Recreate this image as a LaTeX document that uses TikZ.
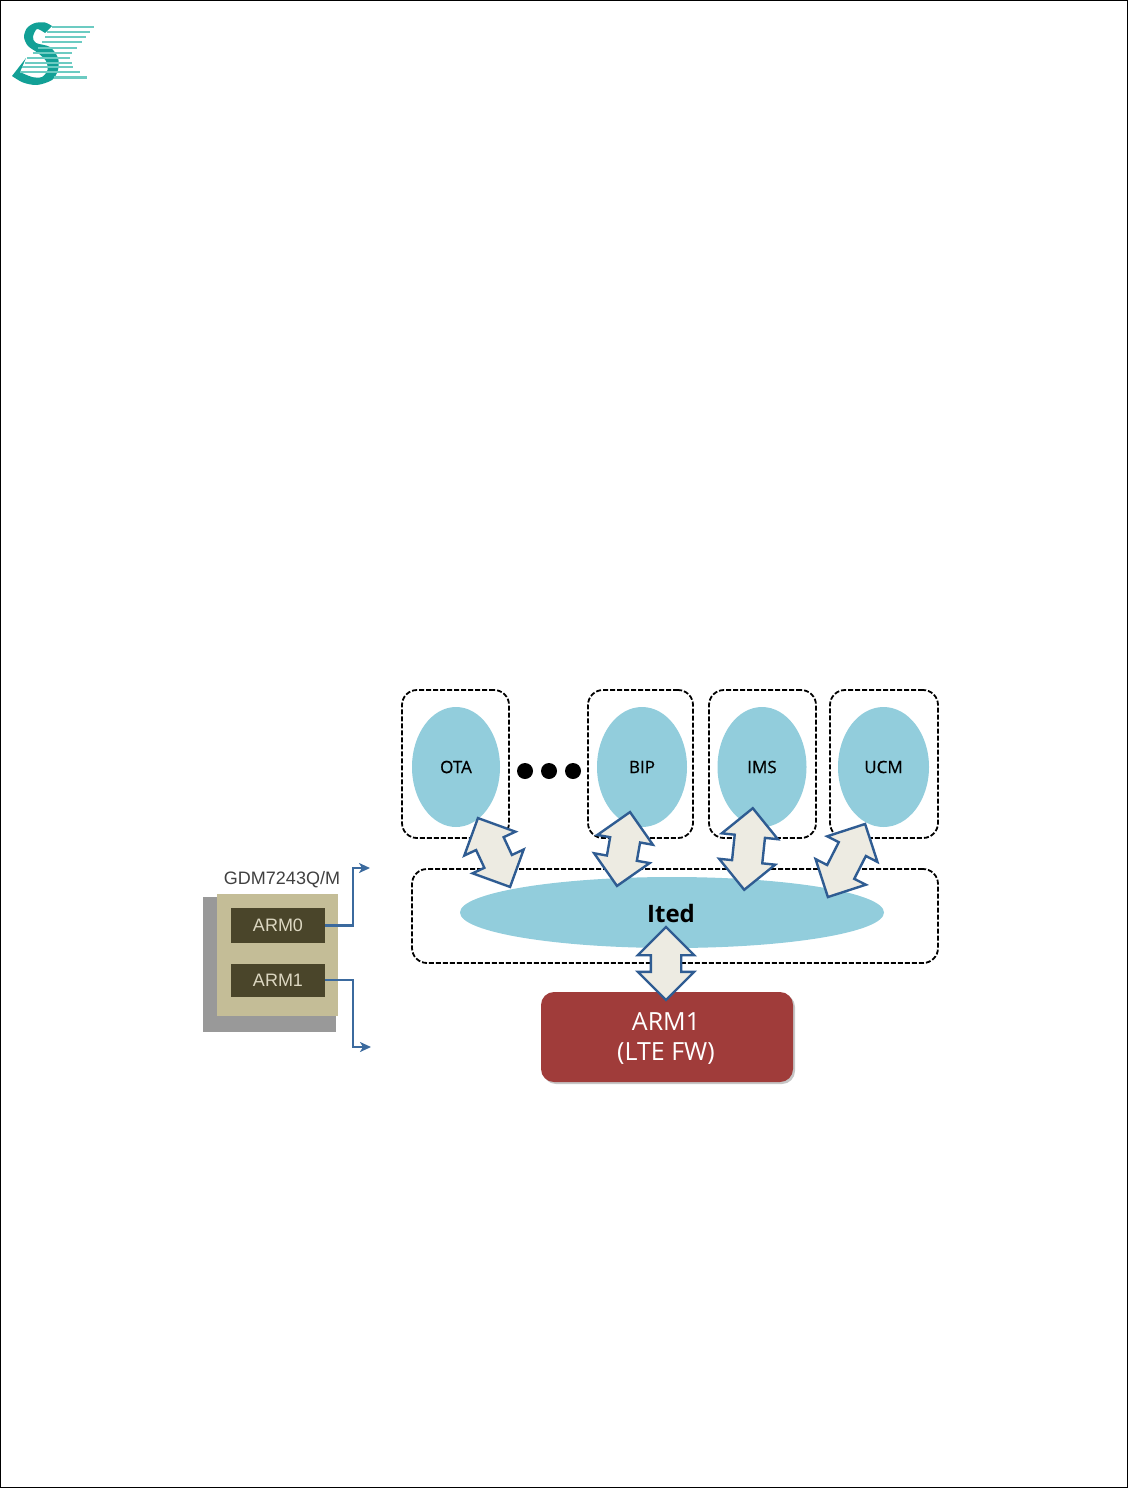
\documentclass[tikz,border=0pt]{standalone}
\usepackage{fontspec}
\setmainfont{Open Sans}
\newfontfamily\chipfont{Liberation Sans}
\newfontfamily\appfont[FakeBold=0.5]{Open Sans}
\usetikzlibrary{arrows.meta,calc,positioning,shadows,shapes.arrows,shapes.geometric}
\definecolor{logoteal}{HTML}{12A096}
\definecolor{logopale}{HTML}{6CCBC2}
\definecolor{appblue}{HTML}{92CDDC}
\definecolor{arrowblue}{HTML}{2F5C92}
\definecolor{arrowfill}{HTML}{EDEBE2}
\definecolor{wireblue}{HTML}{3B6A9E}
\definecolor{fwred}{HTML}{A03C3A}
\definecolor{chiptan}{HTML}{C4BD97}
\definecolor{chipdark}{HTML}{4A452A}
\tikzset{
  appzone/.style={draw=black,line width=1.8pt,dash pattern=on 5pt off 2pt,rounded corners=15pt},
  appoval/.style={ellipse,fill=appblue,inner sep=0pt,font=\appfont\fontsize{17}{20}\selectfont},
  biarrow/.style={double arrow,draw=arrowblue,line width=2.4pt,fill=arrowfill,inner xsep=0pt,inner ysep=14pt,
    double arrow head extend=13pt},
  armbox/.style={fill=chipdark,text=chiptan!60!white,inner sep=0pt,minimum width=94pt,
    font=\chipfont\fontsize{18}{20}\selectfont},
  wire/.style={draw=wireblue,line width=2.4pt,-{Stealth[length=11pt,width=10pt,inset=3pt]}},
  blackdot/.style={circle,fill=black,inner sep=0pt,minimum size=16pt},
}
\begin{document}
\begin{tikzpicture}[x=1pt,y=-1pt]
\useasboundingbox (0,0) rectangle (1128,1488);
\draw[line width=1pt] (0.5,0.5) rectangle (1127.5,1487.5);
\fill[logoteal] plot[smooth] coordinates {(52,26) (45,22.5) (35,23) (27,28) (24,37) (28,46) (38,53) (46,61) (47.5,70) (42,77) (32,77) (20,72)}
  -- (26,58) -- plot[smooth] coordinates {(12,76) (23,82.5) (37,85) (52,80) (58,70) (58,58) (50,47) (36,43) (33,37) (37,29) (45,33)} -- cycle;
\foreach \yy/\xa/\xb in {27/52/94,32/47/90,37/45/86,42/42/82,48/38/77,53/33/72,58/27/70,63/25/72,67/22/73,72/20/80}
  \draw[logopale,line width=1.6pt] (\xa,\yy) -- (\xb,\yy);
\draw[logopale,line width=3pt] (54,77.5) -- (87,77.5);
\fill[gray!80] (203,897) rectangle (336,1032);
\fill[chiptan] (217,894) rectangle (338,1016);
\node[text=black!75,font=\chipfont\fontsize{18}{20}\selectfont] (chip) at (282,880) {GDM7243Q/M};
\node[armbox,minimum height=35pt] (arm0) at (278,925.5) {ARM0};
\node[armbox,minimum height=33pt] (arm1) at (278,980) {ARM1};
\coordinate (outa) at (370,868);
\coordinate (outb) at (371,1047);
\draw[wire] (arm0.east) -- ++(28,0) |- (outa);
\draw[wire] (arm1.east) -- ++(28,0) |- (outb);
\node[appzone,minimum width=107pt,minimum height=148pt] (otazone) at (455.5,764) {};
\node[appzone,minimum width=105pt,minimum height=148pt] (bipzone) at (640.5,764) {};
\node[appzone,minimum width=107pt,minimum height=148pt] (imszone) at (762.5,764) {};
\node[appzone,minimum width=108pt,minimum height=148pt] (ucmzone) at (884,764) {};
\node[appzone,minimum width=526pt,minimum height=94pt] (itedzone) at (675,916) {};
\node[appoval,minimum width=88pt,minimum height=120pt] (ota) at (456,767) {OTA};
\node[appoval,minimum width=90pt,minimum height=120pt] (bip) at (642,767) {BIP};
\node[appoval,minimum width=89pt,minimum height=120pt] (ims) at (762,767) {IMS};
\node[appoval,minimum width=91pt,minimum height=120pt] (ucm) at (883.5,767) {UCM};
\node[appoval,minimum width=424pt,minimum height=71pt] (ited) at (672,912.5) {};
\node[font=\fontsize{24}{28}\selectfont\bfseries] (itedlabel) at (671,913) {Ited};
\node[blackdot] (dota) at (525,771) {};
\node[blackdot] (dotb) at (549,771) {};
\node[blackdot] (dotc) at (573,771) {};
\node[fill=fwred,rounded corners=13pt,minimum width=252pt,minimum height=90pt,inner sep=0pt,
  drop shadow={shadow xshift=2pt,shadow yshift=-2pt,opacity=.45}] (fw) at (667,1037) {};
\node[text=white,align=center,font=\fontsize{25}{30}\selectfont] (fwlabel) at (666,1039) {ARM1\\(LTE FW)};
\node[biarrow,minimum height=76pt,rotate=-65] (otalink) at (494,852.5) {};
\node[biarrow,minimum height=75pt,rotate=80] (biplink) at (623.5,849) {};
\node[biarrow,minimum height=82pt,rotate=84] (imslink) at (748.5,849) {};
\node[biarrow,minimum height=82pt,rotate=63] (ucmlink) at (846.5,860.5) {};
\node[biarrow,minimum height=73pt,rotate=90] (fwlink) at (666,963.5) {};
\end{tikzpicture}
\end{document}
